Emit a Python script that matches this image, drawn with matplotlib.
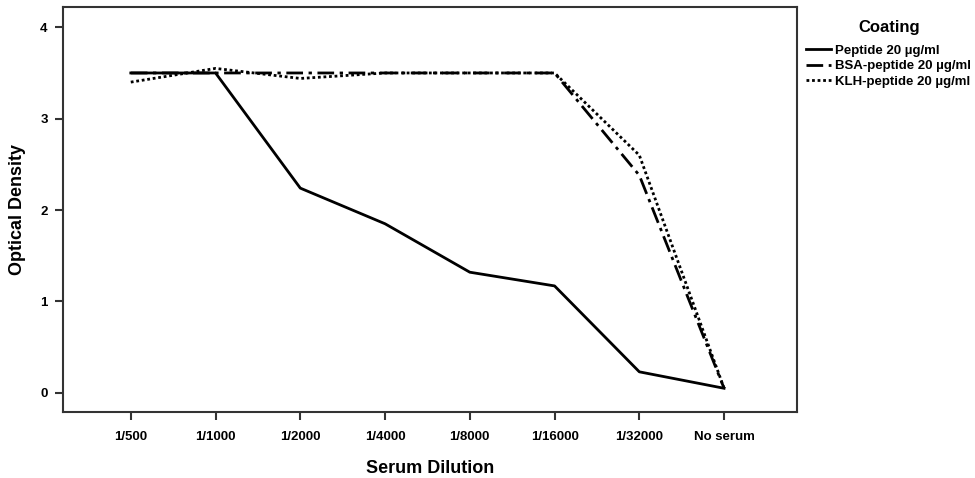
import matplotlib
matplotlib.use("Agg")
import matplotlib.pyplot as plt

categories = ["1/500", "1/1000", "1/2000", "1/4000", "1/8000", "1/16000", "1/32000", "No serum"]
peptide = [3.5, 3.5, 2.24, 1.85, 1.32, 1.17, 0.23, 0.05]
bsa = [3.5, 3.5, 3.5, 3.5, 3.5, 3.5, 2.38, 0.05]
klh = [3.4, 3.55, 3.44, 3.5, 3.5, 3.5, 2.6, 0.05]
series_labels = ["Peptide 20 µg/ml", "BSA-peptide 20 µg/ml", "KLH-peptide 20 µg/ml"]
yticks = [0, 1, 2, 3, 4]

plt.rcParams['font.family'] = ['Liberation Sans', 'DejaVu Sans']
plt.rcParams['font.weight'] = 'bold'

fig = plt.figure(figsize=(9.75, 4.78), dpi=100)
ax = fig.add_axes([0.0646, 0.138, 0.7528, 0.847])

x = list(range(len(categories)))
ax.plot(x, peptide, color='black', lw=2.0, ls='-', label=series_labels[0])
ax.plot(x, bsa, color='black', lw=2.0, ls=(0, (6, 2, 1.2, 2)), label=series_labels[1])
ax.plot(x, klh, color='black', lw=2.0, ls=(0, (1, 1)), label=series_labels[2])

ax.set_xlim(-0.80, 7.86)
ax.set_ylim(-0.21, 4.22)
ax.set_xticks(x)
ax.set_xticklabels(categories, fontsize=9.5, fontweight='bold')
ax.set_yticks(yticks)
ax.set_yticklabels([str(v) for v in yticks], fontsize=9.5, fontweight='bold')
ax.tick_params(axis='x', direction='out', length=6, width=1.5, color='#333333', pad=8)
ax.tick_params(axis='y', direction='out', length=6, width=1.5, color='#333333', pad=5)
for s in ax.spines.values():
    s.set_linewidth(1.5)
    s.set_color('#333333')

ax.set_xlabel("Serum Dilution", fontsize=13, fontweight='bold', labelpad=12)
ax.set_ylabel("Optical Density", fontsize=13, fontweight='bold', labelpad=10)

leg = ax.legend(loc='upper left', bbox_to_anchor=(1.0, 0.992), frameon=False,
                title="Coating", title_fontproperties={'weight': 'bold', 'size': 12},
                fontsize=9.5, handlelength=1.9, handletextpad=0.3, labelspacing=0.25,
                borderaxespad=0.3)
leg._legend_box.align = "center"
leg._legend_box.sep = 7

fig.savefig("out.png", dpi=100)
